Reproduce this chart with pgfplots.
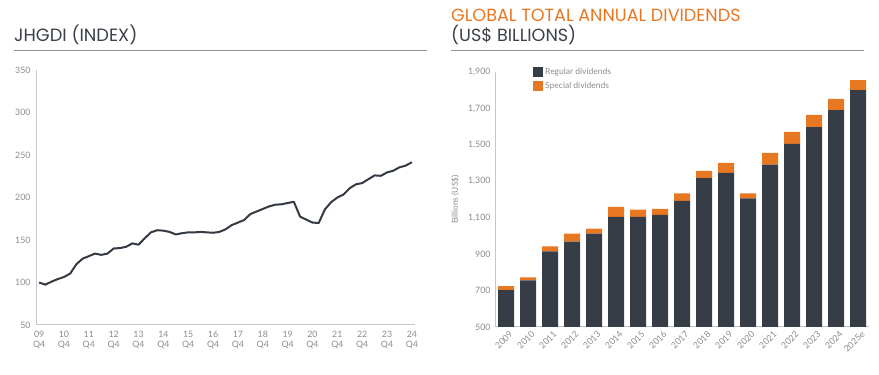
\documentclass[border=0pt]{standalone}
\usepackage{pgfplots}
\pgfplotsset{compat=1.18}
\usepackage{fontspec}
\setmainfont{Lato}
\newfontfamily\titlefont{Poppins}
\definecolor{bardark}{HTML}{373D47}
\definecolor{barorange}{HTML}{E87722}
\definecolor{linedark}{HTML}{343A44}
\definecolor{axisgray}{HTML}{C4C6CA}
\definecolor{tickgray}{HTML}{888B90}
\definecolor{rulegray}{HTML}{8E9096}
\definecolor{titlegray}{HTML}{3B4049}
\begin{document}
\begin{tikzpicture}
\path (0pt,0pt) rectangle (879pt,375pt);
% titles
\node[anchor=base west,inner sep=0pt,text=titlegray,font=\titlefont\fontsize{17.8}{20}\selectfont] at (14pt,333.3pt) {JHGDI (INDEX)};
\draw[rulegray,line width=1pt] (14pt,324.3pt) -- (427pt,324.3pt);
\node[anchor=base west,inner sep=0pt,text=barorange,font=\titlefont\fontsize{17.6}{20}\selectfont] at (451pt,353.3pt) {GLOBAL TOTAL ANNUAL DIVIDENDS};
\node[anchor=base west,inner sep=0pt,text=titlegray,font=\titlefont\fontsize{17.6}{20}\selectfont] at (451pt,333.3pt) {(US\$ BILLIONS)};
\draw[rulegray,line width=1pt] (451pt,324.3pt) -- (864pt,324.3pt);
% left chart
\begin{axis}[
  at={(36pt,50pt)}, anchor=south west,
  scale only axis, width=379pt, height=255pt,
  xmin=-0.5, xmax=60.5, ymin=50, ymax=350,
  axis x line*=bottom, axis y line*=left,
  axis line style={draw=axisgray,line width=1pt,-},
  major tick length=0pt,
  ytick={50,100,...,350},
  xtick={0,4,...,60},
  xticklabels={{09\\Q4},{10\\Q4},{11\\Q4},{12\\Q4},{13\\Q4},{14\\Q4},{15\\Q4},{16\\Q4},{17\\Q4},{18\\Q4},{19\\Q4},{20\\Q4},{21\\Q4},{22\\Q4},{23\\Q4},{24\\Q4}},
  x tick label style={align=center,font=\fontsize{8.8}{10}\selectfont,text=tickgray,yshift=-2.5pt},
  y tick label style={font=\fontsize{8.8}{10}\selectfont,text=tickgray,xshift=-2pt},
  /pgf/number format/assume math mode=true,
  clip=false,
]
\addplot[linedark,line width=2pt,line join=round] coordinates {
(0,100) (1,97.5) (2,101) (3,104) (4,106.5) (5,110.5) (6,121.5) (7,128) (8,131) (9,134)
(10,132.5) (11,134) (12,140) (13,140.5) (14,142) (15,146) (16,144.5) (17,152) (18,159) (19,161.5)
(20,161) (21,159.5) (22,156.5) (23,158) (24,159) (25,159) (26,159.5) (27,159) (28,158.5) (29,159.5)
(30,162.5) (31,167.5) (32,170.5) (33,173.5) (34,180.5) (35,183.5) (36,186.5) (37,189.5) (38,191.5) (39,192)
(40,193.5) (41,195) (42,177.5) (43,174) (44,170.5) (45,170) (46,186) (47,194.5) (48,200) (49,203.5)
(50,211) (51,215.5) (52,217) (53,221.5) (54,226) (55,225.5) (56,229.5) (57,231.5) (58,235.5) (59,237.5)
(60,241.5)};
\end{axis}
% right chart
\begin{axis}[
  at={(495pt,48pt)}, anchor=south west,
  scale only axis, width=374pt, height=255pt,
  xmin=-0.5, xmax=16.5, ymin=500, ymax=1900,
  ybar stacked, bar width=16pt,
  axis x line*=bottom, axis y line*=left,
  axis line style={draw=axisgray,line width=1pt,-},
  major tick length=0pt,
  ytick={500,700,...,1900},
  xtick=data,
  xticklabels={2009,2010,2011,2012,2013,2014,2015,2016,2017,2018,2019,2020,2021,2022,2023,2024,2025e},
  x tick label style={rotate=45,anchor=north east,font=\fontsize{8.8}{10}\selectfont,text=tickgray,xshift=3pt,yshift=-1pt},
  y tick label style={font=\fontsize{8.8}{10}\selectfont,text=tickgray,xshift=-1pt},
  /pgf/number format/.cd, 1000 sep={,}, assume math mode=true, /pgfplots/.cd,
  ylabel={Billions (US\$)},
  ylabel style={at={(axis description cs:-0.107,0.5)},anchor=center,font=\fontsize{8.3}{9}\selectfont,text=tickgray},
  legend style={at={(axis description cs:0.1016,1.024)},anchor=north west,draw=none,fill=none,
    font=\fontsize{8.5}{9}\selectfont,text=tickgray,row sep=2.5pt,inner sep=0pt,
    /tikz/every even column/.append style={column sep=5pt}},
  legend cell align=left,
  legend image code/.code={\fill[#1] (0pt,-5pt) rectangle (10pt,5pt);},
]
\addplot[fill=bardark,draw=none] coordinates {
(0,702) (1,756) (2,915) (3,969) (4,1013) (5,1105) (6,1105) (7,1116) (8,1193)
(9,1318) (10,1346) (11,1206) (12,1391) (13,1505) (14,1598) (15,1691) (16,1801)};
\addlegendentry{Regular dividends}
\addplot[fill=barorange,draw=none] coordinates {
(0,22) (1,17) (2,27) (3,44) (4,27) (5,55) (6,39) (7,33) (8,40)
(9,39) (10,55) (11,27) (12,65) (13,66) (14,66) (15,61) (16,55)};
\addlegendentry{Special dividends}
\end{axis}
\end{tikzpicture}
\end{document}
